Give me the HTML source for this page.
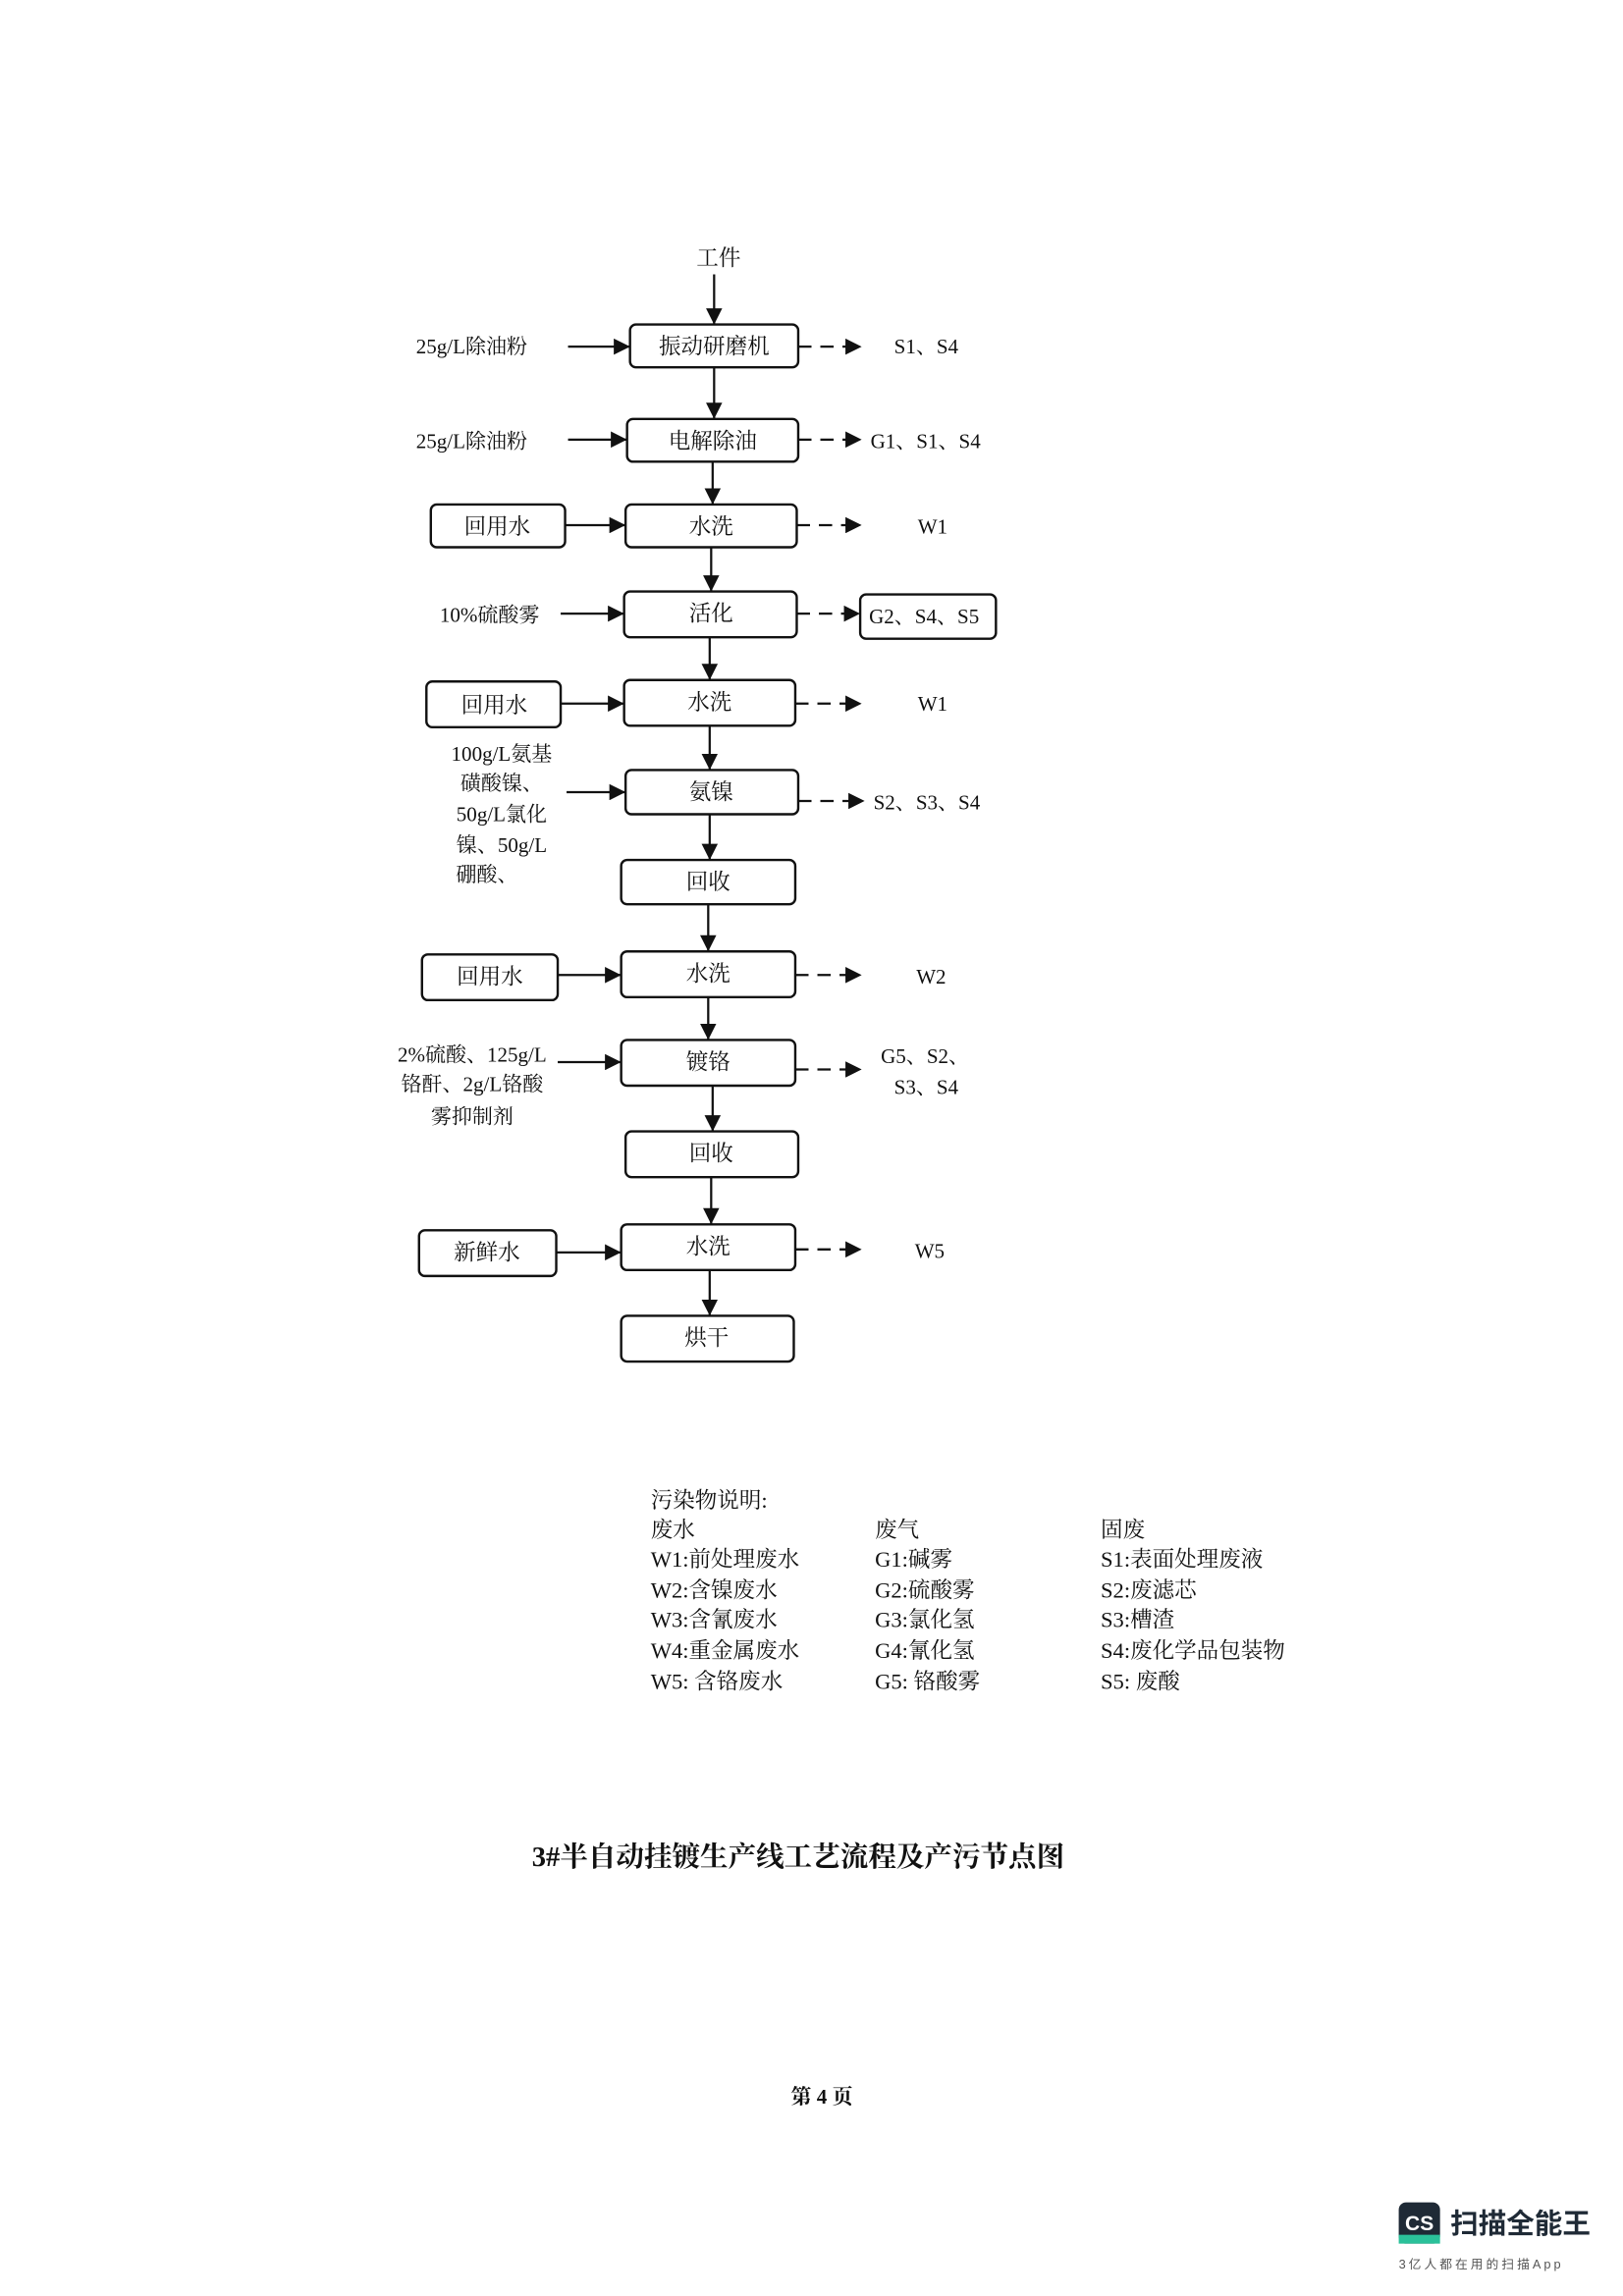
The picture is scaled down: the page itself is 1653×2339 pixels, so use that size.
<!DOCTYPE html>
<html><head><meta charset="utf-8"><style>
html,body{margin:0;padding:0;background:#fff;}
svg{display:block;}
text{font-family:"Liberation Serif","Noto Serif CJK SC",serif;fill:#111;}
.b{fill:#fff;stroke:#111;stroke-width:1.6;}
.l{stroke:#111;stroke-width:1.5;fill:none;}
.d{stroke:#111;stroke-width:1.5;fill:none;stroke-dasharray:9,6;}
.t{font-size:15px;text-anchor:middle;dominant-baseline:central;}
.s{font-size:14px;dominant-baseline:central;}
.g{font-size:15px;}
</style></head><body>
<svg width="1653" height="2339" viewBox="0 0 1100 1556.5" xmlns="http://www.w3.org/2000/svg">
<defs>
<marker id="a" viewBox="0 0 10 10" refX="10" refY="5" markerWidth="8" markerHeight="8" markerUnits="userSpaceOnUse" orient="auto"><path d="M0,0L10,5L0,10z" fill="#111"/></marker>
<marker id="a2" viewBox="0 0 10 10" refX="10" refY="5" markerWidth="11" markerHeight="11" markerUnits="userSpaceOnUse" orient="auto"><path d="M0,0L10,5L0,10z" fill="#111"/></marker>
</defs>

<text class="t" x="487" y="175">工件</text>
<line class="l" x1="484" y1="186" x2="484" y2="220" marker-end="url(#a2)"/>

<!-- main boxes -->
<rect class="b" x="427" y="220" width="114" height="29" rx="4"/><text class="t" x="484" y="235">振动研磨机</text>
<rect class="b" x="425" y="284" width="116" height="29" rx="4"/><text class="t" x="483" y="299">电解除油</text>
<rect class="b" x="424" y="342" width="116" height="29" rx="4"/><text class="t" x="482" y="357">水洗</text>
<rect class="b" x="423" y="401" width="117" height="31" rx="4"/><text class="t" x="482" y="416">活化</text>
<rect class="b" x="423" y="461" width="116" height="31" rx="4"/><text class="t" x="481" y="476">水洗</text>
<rect class="b" x="424" y="522" width="117" height="30" rx="4"/><text class="t" x="482" y="537">氨镍</text>
<rect class="b" x="421" y="583" width="118" height="30" rx="4"/><text class="t" x="480" y="598">回收</text>
<rect class="b" x="421" y="645" width="118" height="31" rx="4"/><text class="t" x="480" y="660">水洗</text>
<rect class="b" x="421" y="705" width="118" height="31" rx="4"/><text class="t" x="480" y="720">镀铬</text>
<rect class="b" x="424" y="767" width="117" height="31" rx="4"/><text class="t" x="482" y="782">回收</text>
<rect class="b" x="421" y="830" width="118" height="31" rx="4"/><text class="t" x="480" y="845">水洗</text>
<rect class="b" x="421" y="892" width="117" height="31" rx="4"/><text class="t" x="479" y="907">烘干</text>

<!-- vertical arrows -->
<line class="l" x1="484" y1="249" x2="484" y2="284" marker-end="url(#a2)"/>
<line class="l" x1="483" y1="313" x2="483" y2="342" marker-end="url(#a2)"/>
<line class="l" x1="482" y1="371" x2="482" y2="401" marker-end="url(#a2)"/>
<line class="l" x1="481" y1="432" x2="481" y2="461" marker-end="url(#a2)"/>
<line class="l" x1="481" y1="492" x2="481" y2="522" marker-end="url(#a2)"/>
<line class="l" x1="481" y1="552" x2="481" y2="583" marker-end="url(#a2)"/>
<line class="l" x1="480" y1="613" x2="480" y2="645" marker-end="url(#a2)"/>
<line class="l" x1="480" y1="676" x2="480" y2="705" marker-end="url(#a2)"/>
<line class="l" x1="483" y1="736" x2="483" y2="767" marker-end="url(#a2)"/>
<line class="l" x1="482" y1="798" x2="482" y2="830" marker-end="url(#a2)"/>
<line class="l" x1="481" y1="861" x2="481" y2="892" marker-end="url(#a2)"/>

<!-- left inputs -->
<text class="s" x="282" y="235">25g/L除油粉</text>
<line class="l" x1="385" y1="235" x2="427" y2="235" marker-end="url(#a2)"/>
<text class="s" x="282" y="299">25g/L除油粉</text>
<line class="l" x1="385" y1="298" x2="425" y2="298" marker-end="url(#a2)"/>
<rect class="b" x="292" y="342" width="91" height="29" rx="4"/><text class="t" x="337" y="357">回用水</text>
<line class="l" x1="383" y1="356" x2="424" y2="356" marker-end="url(#a2)"/>
<text class="s" x="298" y="417">10%硫酸雾</text>
<line class="l" x1="380" y1="416" x2="423" y2="416" marker-end="url(#a2)"/>
<rect class="b" x="289" y="462" width="91" height="31" rx="4"/><text class="t" x="335" y="478">回用水</text>
<line class="l" x1="380" y1="477" x2="423" y2="477" marker-end="url(#a2)"/>
<text class="s" x="340" y="511" text-anchor="middle">100g/L氨基</text>
<text class="s" x="340" y="531" text-anchor="middle">磺酸镍、</text>
<text class="s" x="340" y="552" text-anchor="middle">50g/L氯化</text>
<text class="s" x="340" y="573" text-anchor="middle">镍、50g/L</text>
<text class="s" x="330" y="593" text-anchor="middle">硼酸、</text>
<line class="l" x1="384" y1="537" x2="424" y2="537" marker-end="url(#a2)"/>
<rect class="b" x="286" y="647" width="92" height="31" rx="4"/><text class="t" x="332" y="662">回用水</text>
<line class="l" x1="378" y1="661" x2="421" y2="661" marker-end="url(#a2)"/>
<text class="s" x="320" y="715" text-anchor="middle">2%硫酸、125g/L</text>
<text class="s" x="320" y="735" text-anchor="middle">铬酐、2g/L铬酸</text>
<text class="s" x="320" y="757" text-anchor="middle">雾抑制剂</text>
<line class="l" x1="378" y1="720" x2="421" y2="720" marker-end="url(#a2)"/>
<rect class="b" x="284" y="834" width="93" height="31" rx="4"/><text class="t" x="330" y="849">新鲜水</text>
<line class="l" x1="377" y1="849" x2="421" y2="849" marker-end="url(#a2)"/>

<!-- right outputs -->
<line class="d" x1="541" y1="235" x2="584" y2="235" marker-end="url(#a2)"/><text class="s" x="606" y="235">S1、S4</text>
<line class="d" x1="541" y1="298" x2="584" y2="298" marker-end="url(#a2)"/><text class="s" x="590" y="299">G1、S1、S4</text>
<line class="d" x1="540" y1="356" x2="584" y2="356" marker-end="url(#a2)"/><text class="s" x="622" y="357">W1</text>
<line class="d" x1="540" y1="416" x2="583" y2="416" marker-end="url(#a2)"/>
<rect class="b" x="583" y="403" width="92" height="30" rx="4"/><text class="s" x="589" y="418">G2、S4、S5</text>
<line class="d" x1="539" y1="477" x2="584" y2="477" marker-end="url(#a2)"/><text class="s" x="622" y="477">W1</text>
<line class="d" x1="541" y1="543" x2="586" y2="543" marker-end="url(#a2)"/><text class="s" x="592" y="544">S2、S3、S4</text>
<line class="d" x1="539" y1="661" x2="584" y2="661" marker-end="url(#a2)"/><text class="s" x="621" y="662">W2</text>
<line class="d" x1="539" y1="725" x2="584" y2="725" marker-end="url(#a2)"/>
<text class="s" x="597" y="716">G5、S2、</text><text class="s" x="606" y="737">S3、S4</text>
<line class="d" x1="539" y1="847" x2="584" y2="847" marker-end="url(#a2)"/><text class="s" x="620" y="848">W5</text>

<!-- legend -->
<g class="g">
<text x="441" y="1022">污染物说明:</text>
<text x="441" y="1042">废水</text><text x="593" y="1042">废气</text><text x="746" y="1042">固废</text>
<text x="441" y="1062">W1:前处理废水</text><text x="593" y="1062">G1:碱雾</text><text x="746" y="1062">S1:表面处理废液</text>
<text x="441" y="1083">W2:含镍废水</text><text x="593" y="1083">G2:硫酸雾</text><text x="746" y="1083">S2:废滤芯</text>
<text x="441" y="1103">W3:含氰废水</text><text x="593" y="1103">G3:氯化氢</text><text x="746" y="1103">S3:槽渣</text>
<text x="441" y="1124">W4:重金属废水</text><text x="593" y="1124">G4:氰化氢</text><text x="746" y="1124">S4:废化学品包装物</text>
<text x="441" y="1145">W5: 含铬废水</text><text x="593" y="1145">G5: 铬酸雾</text><text x="746" y="1145">S5: 废酸</text>
</g>

<text x="541" y="1265" text-anchor="middle" style="font-size:19px;font-weight:bold;">3#半自动挂镀生产线工艺流程及产污节点图</text>
<text x="557" y="1426" text-anchor="middle" style="font-size:14px;font-weight:bold;">第 4 页</text>

<!-- logo -->
<rect x="948" y="1493" width="28" height="28" rx="5" fill="#1f2a36"/>
<rect x="948" y="1515" width="28" height="6" fill="#2bc19a"/>
<text x="962" y="1512" text-anchor="middle" style="font-family:'Liberation Sans',sans-serif;font-size:14px;font-weight:bold;fill:#fff;">CS</text>
<text x="983" y="1514" style="font-family:'Liberation Sans','Noto Sans CJK SC',sans-serif;font-size:19px;font-weight:bold;fill:#1f2a36;">扫描全能王</text>
<text x="948" y="1538" style="font-family:'Liberation Sans','Noto Sans CJK SC',sans-serif;font-size:8.5px;fill:#555;letter-spacing:2px;">3亿人都在用的扫描App</text>
</svg>
</body></html>
